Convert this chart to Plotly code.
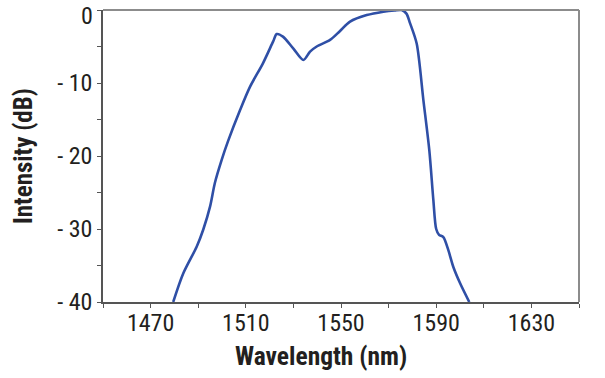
import plotly.graph_objects as go

wavelength_nm = [1479.5, 1483.7, 1489.4, 1492.1, 1495.0, 1497.0, 1499.9, 1502.5, 1507.6, 1511.8,
                 1517.2, 1521.5, 1523.0, 1525.6, 1530.0, 1534.2, 1537.0, 1539.8, 1545.4, 1549.5,
                 1553.8, 1560.8, 1567.8, 1572.5, 1575.5, 1577.5, 1579.0, 1581.8, 1584.6, 1587.1,
                 1588.8, 1590.0, 1591.2, 1593.0, 1595.1, 1597.2, 1600.0, 1603.9]
intensity_db = [-40.0, -36.1, -32.4, -30.1, -26.9, -23.7, -20.5, -18.0, -13.7, -10.5,
                -7.3, -4.3, -3.3, -3.65, -5.3, -6.85, -5.7, -5.0, -4.1, -2.9,
                -1.6, -0.7, -0.23, -0.05, 0.0, -0.5, -1.8, -4.6, -12.3, -19.2,
                -26.0, -30.0, -30.8, -31.1, -32.9, -35.2, -37.4, -40.0]

x_tickvals = [1450, 1470, 1490, 1510, 1530, 1550, 1570, 1590, 1610, 1630, 1650]
x_ticktext = ["", "1470", "", "1510", "", "1550", "", "1590", "", "1630", ""]
y_tickvals = [-40, -35, -30, -25, -20, -15, -10, -5, 0]
y_ticktext = ["- 40", "", "- 30", "", "- 20", "", "- 10", "", ""]
y_top_label = "0"
x_title = "Wavelength (nm)"
y_title = "Intensity (dB)"

FONT = "Liberation Sans Narrow, Roboto Condensed, Arial Narrow, Liberation Sans, sans-serif"
TXT = "#231f20"

fig = go.Figure()
fig.add_trace(go.Scatter(
    x=wavelength_nm, y=intensity_db, mode="lines",
    line=dict(color="#2f4fa6", width=2.6, shape="spline", smoothing=0.8),
    showlegend=False, cliponaxis=True, hoverinfo="skip",
))

fig.update_layout(
    width=605, height=378,
    margin=dict(l=103, r=26, t=10, b=76, autoexpand=False),
    paper_bgcolor="white", plot_bgcolor="white",
    font=dict(family=FONT, color=TXT),
)
fig.update_xaxes(
    range=[1450, 1650], tickvals=x_tickvals, ticktext=x_ticktext,
    ticks="outside", ticklen=4, tickwidth=1.2, tickcolor="#555555",
    showline=True, linecolor="#555555", linewidth=1.5,
    showgrid=False, zeroline=False, automargin=False, ticklabeloverflow="allow",
    ticklabelstandoff=-6,
    tickfont=dict(size=24, family=FONT, color=TXT),
)
fig.update_yaxes(
    range=[-40, 0], tickvals=y_tickvals, ticktext=y_ticktext,
    ticks="outside", ticklen=4, tickwidth=1.2, tickcolor="#555555",
    showline=True, linecolor="#555555", linewidth=1.5,
    showgrid=False, zeroline=False, automargin=False, ticklabeloverflow="allow",
    tickfont=dict(size=24, family=FONT, color=TXT),
)
# top "0" label, nudged down so it stays inside the picture like the reference
fig.add_annotation(text=y_top_label, xref="paper", yref="y", x=0, y=0,
                   xanchor="right", yanchor="middle", xshift=-8, yshift=-6,
                   showarrow=False, font=dict(size=24, family=FONT, color=TXT))
# axis titles (offset like the reference)
fig.add_annotation(text="<b>" + x_title + "</b>", xref="paper", yref="paper",
                   x=0.459, y=-0.185, xanchor="center", yanchor="middle", showarrow=False,
                   font=dict(size=25.5, family=FONT, color=TXT))
fig.add_annotation(text="<b>" + y_title + "</b>", xref="paper", yref="paper",
                   x=-0.168, y=0.5, xanchor="center", yanchor="middle", showarrow=False,
                   textangle=-90, font=dict(size=25, family=FONT, color=TXT))
# lighter gray frame on top and right
fig.add_shape(type="line", xref="paper", yref="paper", x0=0, x1=1, y0=1, y1=1,
              line=dict(color="#8c8c8c", width=2))
fig.add_shape(type="line", xref="paper", yref="paper", x0=1, x1=1, y0=0, y1=1,
              line=dict(color="#8c8c8c", width=2))

fig.write_html("out.html", config={"displayModeBar": False},
               post_script="document.body.style.margin='0';")
